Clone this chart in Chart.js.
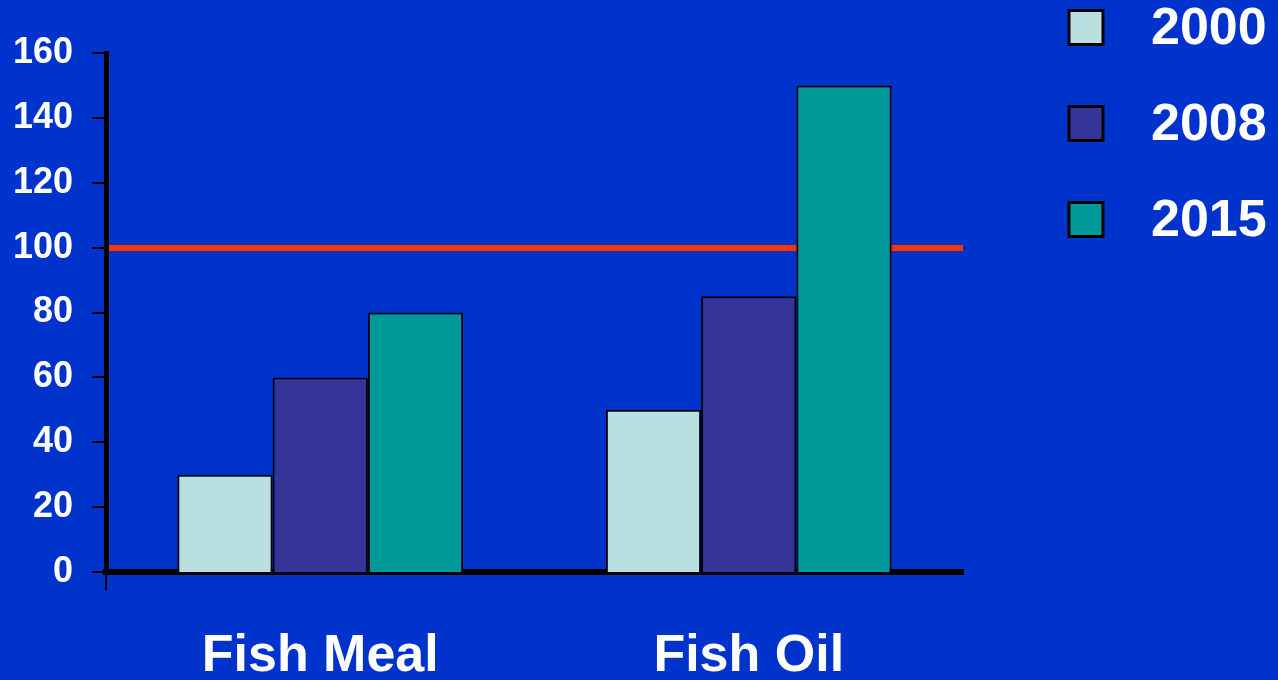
<!DOCTYPE html>
<html>
<head>
<meta charset="utf-8">
<script src="https://cdn.jsdelivr.net/npm/chart.js@4/dist/chart.umd.min.js"></script>
<style>
  html, body { margin: 0; padding: 0; background: #0033CC; overflow: hidden; }
  #wrap { position: relative; width: 1278px; height: 680px; }
</style>
</head>
<body>
<div id="wrap"><canvas id="c"></canvas></div>
<script>
const categories = ['Fish Meal', 'Fish Oil'];
const seriesLabels = ['2000', '2008', '2015'];
const values2000 = [30, 50];
const values2008 = [60, 85];
const values2015 = [80, 150];
const referenceLevel = [100];
const yMin = 0, yMax = 160, yStep = 20;

const seriesColors = ['#BADFE1', '#343499', '#009999'];
const FONT = "'Liberation Sans', Arial, Helvetica, sans-serif";

const customLegend = {
  id: 'customLegend',
  afterDraw(chart) {
    const ctx = chart.ctx;
    ctx.save();
    chart.data.datasets.forEach((ds, i) => {
      const cy = 27.5 + i * 96;
      ctx.fillStyle = ds.backgroundColor;
      ctx.fillRect(1069, cy - 17, 34, 34);
      ctx.lineWidth = 3;
      ctx.strokeStyle = '#000';
      ctx.strokeRect(1069, cy - 17, 34, 34);
      ctx.fillStyle = '#FFFFFF';
      ctx.font = 'bold 52px ' + FONT;
      ctx.textAlign = 'left';
      ctx.textBaseline = 'middle';
      ctx.fillText(ds.label, 1151, cy + 2);
    });
    ctx.restore();
  }
};

const isRef = v => referenceLevel.includes(v);

new Chart(document.getElementById('c'), {
  type: 'bar',
  data: {
    labels: categories,
    datasets: [
      { label: seriesLabels[0], data: values2000, backgroundColor: seriesColors[0], borderColor: '#000', borderWidth: 2 },
      { label: seriesLabels[1], data: values2008, backgroundColor: seriesColors[1], borderColor: '#000', borderWidth: 2 },
      { label: seriesLabels[2], data: values2015, backgroundColor: seriesColors[2], borderColor: '#000', borderWidth: 2 }
    ]
  },
  options: {
    responsive: true,
    maintainAspectRatio: false,
    animation: false,
    events: [],
    layout: { padding: { top: 53, right: 315, left: 0, bottom: 0 } },
    datasets: { bar: { categoryPercentage: 0.667, barPercentage: 1.0 } },
    plugins: { legend: { display: false }, tooltip: { enabled: false }, title: { display: false } },
    scales: {
      x: {
        type: 'category',
        z: 1,
        offset: true,
        afterFit: s => { s.height = 108; },
        border: { display: true, color: '#000', width: 6 },
        grid: {
          offset: true, drawOnChartArea: false, drawTicks: true, tickLength: 18,
          lineWidth: 2,
          color: ctx => (ctx.index === 0 ? '#000' : 'rgba(0,0,0,0)')
        },
        ticks: { color: '#FFFFFF', font: { family: FONT, size: 52, weight: 'bold' }, padding: 35, maxRotation: 0, autoSkip: false }
      },
      y: {
        z: 0,
        min: yMin, max: yMax,
        afterFit: s => { s.width = 106; },
        border: { display: true, color: '#000', width: 5 },
        grid: {
          drawOnChartArea: true, drawTicks: true, tickLength: 14,
          color: ctx => (ctx.tick && isRef(ctx.tick.value) ? '#FF3300' : 'rgba(0,0,0,0)'),
          lineWidth: ctx => (ctx.tick && isRef(ctx.tick.value) ? 6 : 0),
          tickColor: '#000', tickWidth: 2
        },
        ticks: { stepSize: yStep, color: '#FFFFFF', font: { family: FONT, size: 36, weight: 'bold' }, padding: 19 }
      }
    }
  },
  plugins: [customLegend]
});
</script>
</body>
</html>
